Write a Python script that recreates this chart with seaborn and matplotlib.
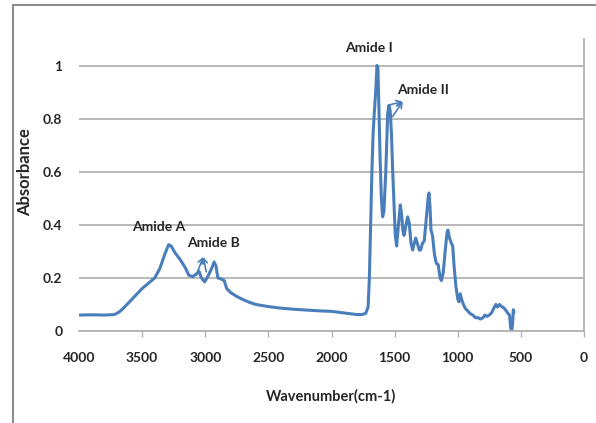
import pandas as pd
import matplotlib
matplotlib.use('Agg')
import matplotlib.pyplot as plt
import seaborn as sns
from matplotlib.patches import Rectangle

# spectrum (wavenumber cm-1, absorbance)
wavenumber = [4000, 3900, 3800, 3720, 3680, 3640, 3600, 3550, 3500, 3450, 3400, 3360,
              3320, 3290, 3270, 3240, 3200, 3160, 3130, 3100, 3070, 3050, 3030, 3005,
              2980, 2950, 2930, 2915, 2900, 2870, 2850, 2830, 2800, 2750, 2700, 2650,
              2600, 2500, 2400, 2300, 2200, 2100, 2000, 1900, 1800, 1760, 1730, 1710,
              1700, 1690, 1680, 1670, 1660, 1650, 1640, 1632, 1625, 1615, 1605, 1595,
              1585, 1570, 1555, 1545, 1535, 1525, 1515, 1505, 1495, 1484, 1470, 1455,
              1445, 1435, 1425, 1410, 1397, 1385, 1370, 1357, 1345, 1333, 1320, 1305,
              1294, 1280, 1265, 1250, 1235, 1228, 1220, 1212, 1200, 1185, 1170, 1155,
              1140, 1130, 1115, 1100, 1085, 1078, 1065, 1050, 1040, 1030, 1015, 1000,
              990, 980, 970, 955, 940, 920, 900, 880, 860, 840, 820, 800, 785, 770,
              750, 730, 710, 698, 685, 670, 659, 645, 630, 615, 600, 590, 580, 572,
              565, 560, 555]
absorbance = [0.060, 0.061, 0.060, 0.062, 0.072, 0.090, 0.110, 0.135, 0.160, 0.180, 0.200, 0.235,
              0.290, 0.325, 0.320, 0.295, 0.270, 0.240, 0.210, 0.205, 0.215, 0.225, 0.200, 0.185,
              0.205, 0.235, 0.260, 0.245, 0.200, 0.195, 0.190, 0.160, 0.145, 0.130, 0.118, 0.108,
              0.100, 0.092, 0.086, 0.082, 0.079, 0.076, 0.074, 0.068, 0.062, 0.062, 0.066, 0.090,
              0.200, 0.400, 0.600, 0.750, 0.830, 0.900, 1.000, 0.990, 0.850, 0.650, 0.500, 0.430,
              0.450, 0.600, 0.820, 0.850, 0.830, 0.740, 0.600, 0.480, 0.360, 0.320, 0.400, 0.475,
              0.440, 0.380, 0.360, 0.400, 0.430, 0.410, 0.330, 0.305, 0.330, 0.350, 0.330, 0.305,
              0.305, 0.330, 0.340, 0.420, 0.500, 0.520, 0.470, 0.380, 0.360, 0.290, 0.255, 0.250,
              0.200, 0.190, 0.220, 0.300, 0.370, 0.380, 0.350, 0.330, 0.320, 0.250, 0.170, 0.120,
              0.110, 0.140, 0.120, 0.100, 0.085, 0.075, 0.065, 0.060, 0.050, 0.050, 0.045, 0.050, 0.060, 0.055,
              0.060, 0.070, 0.090, 0.100, 0.090, 0.100, 0.095, 0.090, 0.085, 0.075, 0.065, 0.060, 0.010, 0.000,
              0.030, 0.080, 0.070]

yticks = [0, 0.2, 0.4, 0.6, 0.8, 1]
ytick_labels = ['0', '0.2', '0.4', '0.6', '0.8', '1']
xticks = [4000, 3500, 3000, 2500, 2000, 1500, 1000, 500, 0]

df = pd.DataFrame({'Wavenumber': wavenumber, 'Absorbance': absorbance})

sns.set_style('white')
plt.rcParams['font.family'] = ['Lato', 'DejaVu Sans']

fig = plt.figure(figsize=(5.96, 4.23), dpi=100)
ax = fig.add_axes([79 / 596, 1 - 331 / 423, (584 - 79) / 596, (331 - 39) / 423])

sns.lineplot(data=df, x='Wavenumber', y='Absorbance', color='#4A7EBB', linewidth=2.2, ax=ax)

ax.set_xlim(4000, 0)
ax.set_ylim(0, 1.1)
ax.set_xticks(xticks)
ax.set_xticklabels([str(t) for t in xticks])
ax.set_yticks(yticks)
ax.set_yticklabels(ytick_labels)
ax.grid(axis='y', color='#B3B3B3', linewidth=1.3)
ax.set_axisbelow(True)

for s in ['top', 'left']:
    ax.spines[s].set_visible(False)
for s in ['bottom', 'right']:
    ax.spines[s].set_color('#B3B3B3')
    ax.spines[s].set_linewidth(1.3)

ax.tick_params(axis='x', length=4, width=1, color='#B3B3B3', pad=11, labelsize=10, bottom=True)
ax.tick_params(axis='y', length=0, pad=12, labelsize=10)
ax.xaxis.get_major_ticks()[0].tick1line.set_visible(False)
for lab in ax.get_xticklabels() + ax.get_yticklabels():
    lab.set_fontweight('bold')

ax.set_xlabel('Wavenumber(cm-1)', fontsize=10.5, fontweight='bold', labelpad=18)
ax.set_ylabel('Absorbance', fontsize=12, fontweight='bold')
ax.yaxis.set_label_coords(-0.091, 0.545)

# peak labels
txt = dict(fontsize=10, fontweight='bold', ha='center', va='center')
ax.text(3365, 0.39, 'Amide A', **txt)
ax.text(2936, 0.332, 'Amide B', **txt)
ax.text(1702, 1.066, 'Amide I', **txt)
ax.text(1274, 0.906, 'Amide II', **txt)

arrow = dict(arrowstyle='->,head_length=0.35,head_width=0.2', color='#4A7EBB', lw=1.2,
             shrinkA=0, shrinkB=0)
ax.annotate('', xy=(3016, 0.279), xytext=(3071, 0.211), arrowprops=arrow)
ax.annotate('', xy=(3016, 0.279), xytext=(2992, 0.223), arrowprops=arrow)
ax.annotate('', xy=(1436, 0.864), xytext=(1532, 0.853), arrowprops=arrow)
ax.annotate('', xy=(1436, 0.864), xytext=(1516, 0.808), arrowprops=arrow)

# chart border (cut at the right and bottom edges like the reference)
fig.patches.append(Rectangle((13 / 596, -0.05), 1.1, 1 - 5 / 423 + 0.05,
                             transform=fig.transFigure, fill=False,
                             edgecolor='#8C8C8C', linewidth=1.5))

fig.savefig('out.png', dpi=100)
